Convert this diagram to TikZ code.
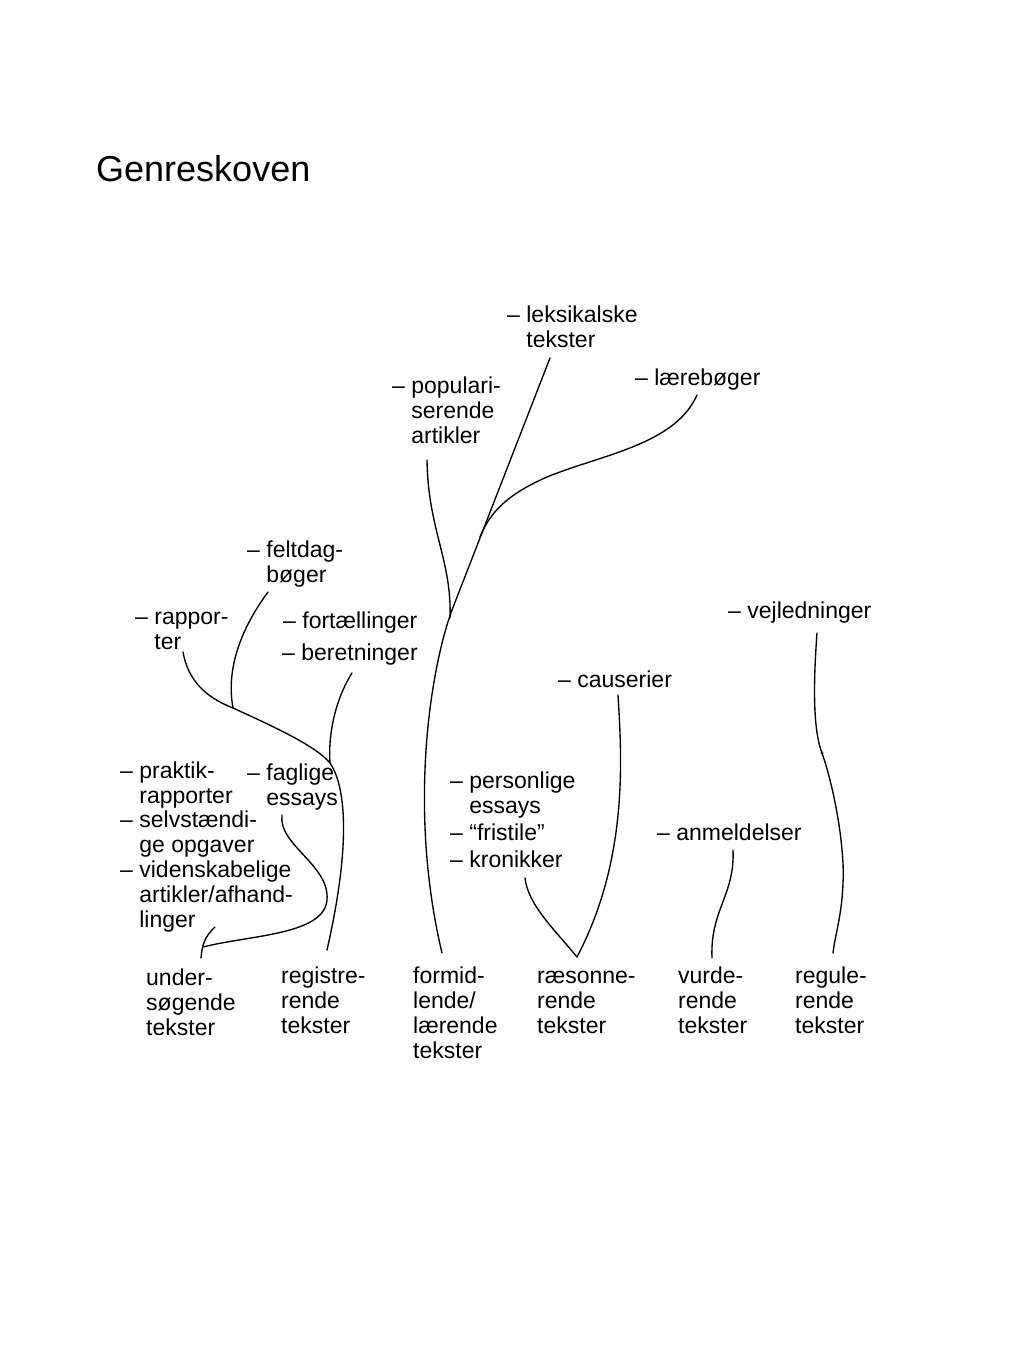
\documentclass[tikz,border=0pt]{standalone}
\usepackage{fontspec}
\setmainfont{Liberation Sans}
\begin{document}
\begin{tikzpicture}[x=1pt,y=-1pt,
  lbl/.style={anchor=base west, align=left, inner sep=0pt, font=\fontsize{23}{25}\selectfont},
  branch/.style={line width=1.35pt, line cap=round, line join=round}]
\useasboundingbox[fill=white] (0,0) rectangle (1024,1365);
\newcommand{\ind}{\hphantom{– }}
% title
\node[anchor=base west, inner sep=0pt, font=\fontsize{36}{40}\selectfont] (title) at (96,181) {Genreskoven};

% top labels (anchor = baseline of last line)
\node[lbl] (leks) at (507,347) {– leksikalske\\\ind tekster};
\node[lbl] (laer) at (635,385) {– lærebøger};
\node[lbl] (popu) at (392,443) {– populari-\\\ind serende\\\ind artikler};
\node[lbl] (felt) at (247,582) {– feltdag-\\\ind bøger};
\node[lbl] (rapp) at (135,649) {– rappor-\\\ind ter};
\node[lbl] (fort) at (283,628) {– fortællinger};
\node[lbl] (bere) at (282,660) {– beretninger};
\node[lbl] (vejl) at (728,618) {– vejledninger};
\node[lbl] (caus) at (558,687) {– causerier};
\node[lbl] (prak) at (120,803) {– praktik-\\\ind rapporter};
\node[lbl] (selv) at (120,852) {– selvstændi-\\\ind ge opgaver};
\node[lbl] (vide) at (120,927) {– videnskabelige\\\ind artikler/afhand-\\\ind linger};
\node[lbl] (fagl) at (247,805) {– faglige\\\ind essays};
\node[lbl] (pers) at (450,813) {– personlige\\\ind essays};
\node[lbl] (fris) at (450,840) {– “fristile”};
\node[lbl] (kron) at (450,867) {– kronikker};
\node[lbl] (anme) at (657,840) {– anmeldelser};

% bottom labels
\node[lbl] (unde) at (146,1035) {under-\\søgende\\tekster};
\node[lbl] (regi) at (281,1033) {registre-\\rende\\tekster};
\node[lbl] (form) at (413,1058) {formid-\\lende/\\lærende\\tekster};
\node[lbl] (raes) at (537,1033) {ræsonne-\\rende\\tekster};
\node[lbl] (vurd) at (678,1033) {vurde-\\rende\\tekster};
\node[lbl] (regu) at (795,1033) {regule-\\rende\\tekster};

% junction / end coordinates
\coordinate (leksEnd) at (550,358);
\coordinate (laerEnd) at (697,395);
\coordinate (popuEnd) at (427,460);
\coordinate (formTop) at (442,953);
\coordinate (jLaer) at (480,537);
\coordinate (jPopu) at (450,618);
\coordinate (feltEnd) at (268,592);
\coordinate (rappEnd) at (183,652);
\coordinate (bereEnd) at (352,673);
\coordinate (jFelt) at (233,708);
\coordinate (jBere) at (330,763);
\coordinate (regiTop) at (327,950);
\coordinate (faglEnd) at (282,815);
\coordinate (videEnd) at (215,927);
\coordinate (jUnde) at (203,947);
\coordinate (undeTop) at (201,958);
\coordinate (causEnd) at (618,695);
\coordinate (kronEnd) at (525,878);
\coordinate (raesTop) at (577,957);
\coordinate (anmeEnd) at (733,850);
\coordinate (vurdTop) at (712,958);
\coordinate (vejlEnd) at (817,633);
\coordinate (regDot) at (822,753);
\coordinate (reguTop) at (833,953);

% formidlende / laerende
\draw[branch] (leksEnd) -- (452,610) .. controls (430,670) and (408,810) .. (formTop);
\draw[branch] (laerEnd) .. controls (675,445) and (600,455) .. (547,477)
  .. controls (508,494) and (490,512) .. (jLaer);
\draw[branch] (popuEnd) .. controls (428,530) and (452,560) .. (jPopu);

% registrerende
\draw[branch] (rappEnd) .. controls (188,680) and (205,697) .. (jFelt)
  .. controls (270,725) and (315,745) .. (jBere)
  .. controls (345,785) and (352,840) .. (regiTop);
\draw[branch] (feltEnd) .. controls (240,630) and (226,670) .. (jFelt);
\draw[branch] (bereEnd) .. controls (335,700) and (328,735) .. (jBere);

% undersogende
\draw[branch] (faglEnd) .. controls (278,845) and (330,865) .. (327,900)
  .. controls (324,935) and (250,935) .. (jUnde);
\draw[branch] (videEnd) .. controls (205,936) and (202,945) .. (undeTop);

% raesonnerende
\draw[branch] (causEnd) .. controls (622,760) and (628,860) .. (raesTop);
\draw[branch] (kronEnd) .. controls (528,905) and (555,930) .. (raesTop);

% vurderende
\draw[branch] (anmeEnd) .. controls (735,895) and (710,910) .. (vurdTop);

% regulerende
\draw[branch] (vejlEnd) .. controls (812,700) and (815,735) .. (regDot)
  .. controls (835,790) and (845,850) .. (843,883)
  .. controls (842,915) and (835,935) .. (reguTop);
\fill (regDot) circle (1.6);
\end{tikzpicture}
\end{document}
